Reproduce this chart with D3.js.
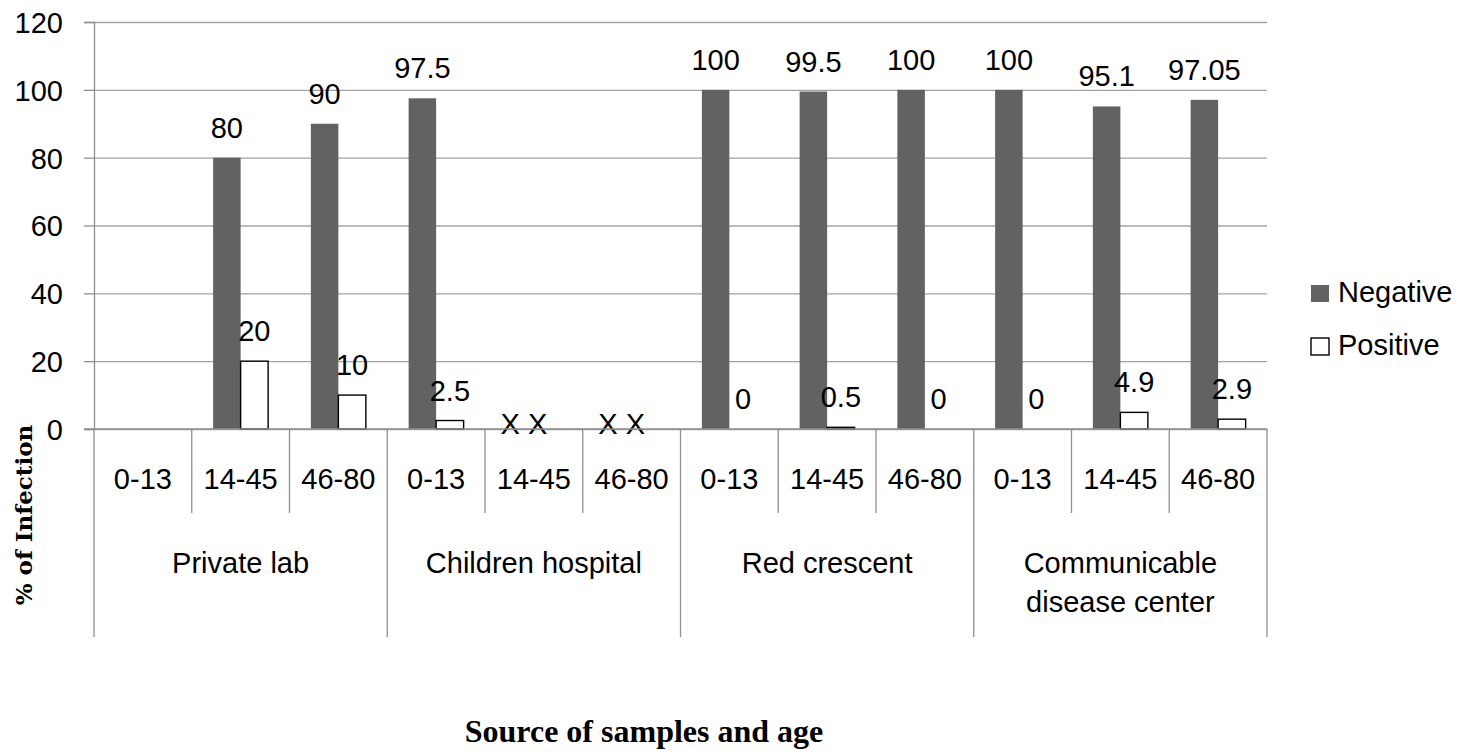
<!DOCTYPE html>
<html>
<head>
<meta charset="utf-8">
<script src="https://cdn.jsdelivr.net/npm/d3@7/dist/d3.min.js"></script>
<style>
  html, body { margin: 0; padding: 0; background: #fff; }
  svg { display: block; }
  .lbl { font-family: "Liberation Sans", Arial, sans-serif; font-size: 29px; fill: #000; }
</style>
</head>
<body>
<svg id="chart" width="1470" height="752"></svg>
<script>
// Sample sources and age groups
const sources = ["Private lab", "Children hospital", "Red crescent", "Communicable disease center"];
const sourceLines = [["Private lab"], ["Children hospital"], ["Red crescent"], ["Communicable", "disease center"]];
const ages = ["0-13", "14-45", "46-80"];
const seriesNames = ["Negative", "Positive"];

// % of infection per source/age (null = no samples)
const negative = [null, 80, 90,   97.5, null, null,   100, 99.5, 100,   100, 95.1, 97.05];
const positive = [null, 20, 10,   2.5,  null, null,   0,   0.5,  0,     0,   4.9,  2.9];
// groups that were not examined, marked with "X"
const notExamined = [false, false, false, false, true, true, false, false, false, false, false, false];

const yTicks = [0, 20, 40, 60, 80, 100, 120];

const svg = d3.select("#chart");
const plotLeft = 94, plotRight = 1267, plotTop = 22, plotBottom = 429;

const keys = [];
sources.forEach(s => ages.forEach(a => keys.push(s + "|" + a)));

const x = d3.scaleBand().domain(keys).range([plotLeft, plotRight]).paddingInner(0).paddingOuter(0);
const xGroup = d3.scaleBand().domain(sources).range([plotLeft, plotRight]);
const xSeries = d3.scaleBand().domain(seriesNames).range([0, x.bandwidth()]).paddingInner(0).paddingOuter(0.777);
const y = d3.scaleLinear().domain([0, 120]).range([plotBottom, plotTop]);

const colors = { Negative: "#626262", Positive: "#ffffff" };
const gridColor = "#a3a3a3";
const axisColor = "#8f8f8f";

// gridlines
svg.append("g")
  .attr("transform", `translate(${plotLeft},0)`)
  .call(d3.axisLeft(y).tickValues(yTicks).tickSize(-(plotRight - plotLeft)).tickFormat(""))
  .call(g => g.select(".domain").remove())
  .call(g => g.selectAll("line").attr("stroke", gridColor).attr("stroke-width", 1.3));

// y axis with ticks and labels
svg.append("g")
  .attr("transform", `translate(${plotLeft},0)`)
  .call(d3.axisLeft(y).tickValues(yTicks).tickSize(10).tickPadding(21).tickFormat(d3.format("d")))
  .call(g => g.select(".domain").attr("stroke", axisColor).attr("stroke-width", 1.3))
  .call(g => g.selectAll("line").attr("stroke", axisColor).attr("stroke-width", 1.3))
  .call(g => g.selectAll("text").attr("class", "lbl").attr("font-size", null).attr("font-family", null).attr("dy", "0.36em"));

// bars
const rows = keys.map((k, i) => ({ key: k, Negative: negative[i], Positive: positive[i], na: notExamined[i] }));
const barG = svg.append("g");
rows.forEach(r => {
  seriesNames.forEach(s => {
    const v = r[s];
    const bx = x(r.key) + xSeries(s);
    if (v !== null && v > 0) {
      barG.append("rect")
        .attr("x", bx)
        .attr("y", y(v))
        .attr("width", xSeries.bandwidth())
        .attr("height", y(0) - y(v))
        .attr("fill", colors[s])
        .attr("stroke", s === "Positive" ? "#000" : "none")
        .attr("stroke-width", 1.4);
    }
    if (v !== null) {
      barG.append("text")
        .attr("class", "lbl")
        .attr("x", bx + xSeries.bandwidth() / 2)
        .attr("y", y(v) - 20)
        .attr("text-anchor", "middle")
        .text(String(v));
    } else if (r.na) {
      barG.append("text")
        .attr("class", "lbl")
        .attr("x", bx + xSeries.bandwidth() / 2 - 10)
        .attr("y", y(0) + 5)
        .attr("text-anchor", "middle")
        .text("X");
    }
  });
});

// x axis baseline
svg.append("line")
  .attr("x1", plotLeft - 10).attr("x2", plotRight)
  .attr("y1", y(0)).attr("y2", y(0))
  .attr("stroke", axisColor).attr("stroke-width", 1.3);

// category separators: age ticks short, source ticks long
const sepG = svg.append("g");
keys.forEach((k, i) => {
  const isGroup = i % ages.length === 0;
  sepG.append("line")
    .attr("x1", x(k)).attr("x2", x(k))
    .attr("y1", y(0)).attr("y2", isGroup ? 637 : 513)
    .attr("stroke", axisColor).attr("stroke-width", 1.3);
});
sepG.append("line")
  .attr("x1", plotRight).attr("x2", plotRight)
  .attr("y1", y(0)).attr("y2", 637)
  .attr("stroke", axisColor).attr("stroke-width", 1.3);

// age labels
keys.forEach((k, i) => {
  svg.append("text")
    .attr("class", "lbl")
    .attr("x", x(k) + x.bandwidth() / 2)
    .attr("y", 489)
    .attr("text-anchor", "middle")
    .text(ages[i % ages.length]);
});

// source labels
sources.forEach((s, i) => {
  const t = svg.append("text")
    .attr("class", "lbl")
    .attr("x", xGroup(s) + xGroup.bandwidth() / 2)
    .attr("y", 573)
    .attr("text-anchor", "middle");
  sourceLines[i].forEach((line, j) => {
    t.append("tspan")
      .attr("x", xGroup(s) + xGroup.bandwidth() / 2)
      .attr("dy", j === 0 ? 0 : 39)
      .text(line);
  });
});

// legend
const legend = svg.append("g");
seriesNames.forEach((s, i) => {
  const ly = 285 + i * 53;
  legend.append("rect")
    .attr("x", 1311).attr("y", ly)
    .attr("width", 18).attr("height", 17)
    .attr("fill", colors[s])
    .attr("stroke", s === "Positive" ? "#000" : "none")
    .attr("stroke-width", 1.4);
  legend.append("text")
    .attr("class", "lbl")
    .attr("x", 1338).attr("y", ly + 17)
    .text(s);
});

// axis titles
svg.append("text")
  .attr("transform", "translate(32,515) rotate(-90)")
  .attr("text-anchor", "middle")
  .attr("font-family", "'DejaVu Serif', serif")
  .attr("font-weight", "bold")
  .attr("font-size", 23)
  .text("% of Infection");

svg.append("text")
  .attr("x", 644).attr("y", 742)
  .attr("text-anchor", "middle")
  .attr("font-family", "'Liberation Serif', 'Times New Roman', serif")
  .attr("font-weight", "bold")
  .attr("font-size", 32)
  .text("Source of samples and age");
</script>
</body>
</html>
